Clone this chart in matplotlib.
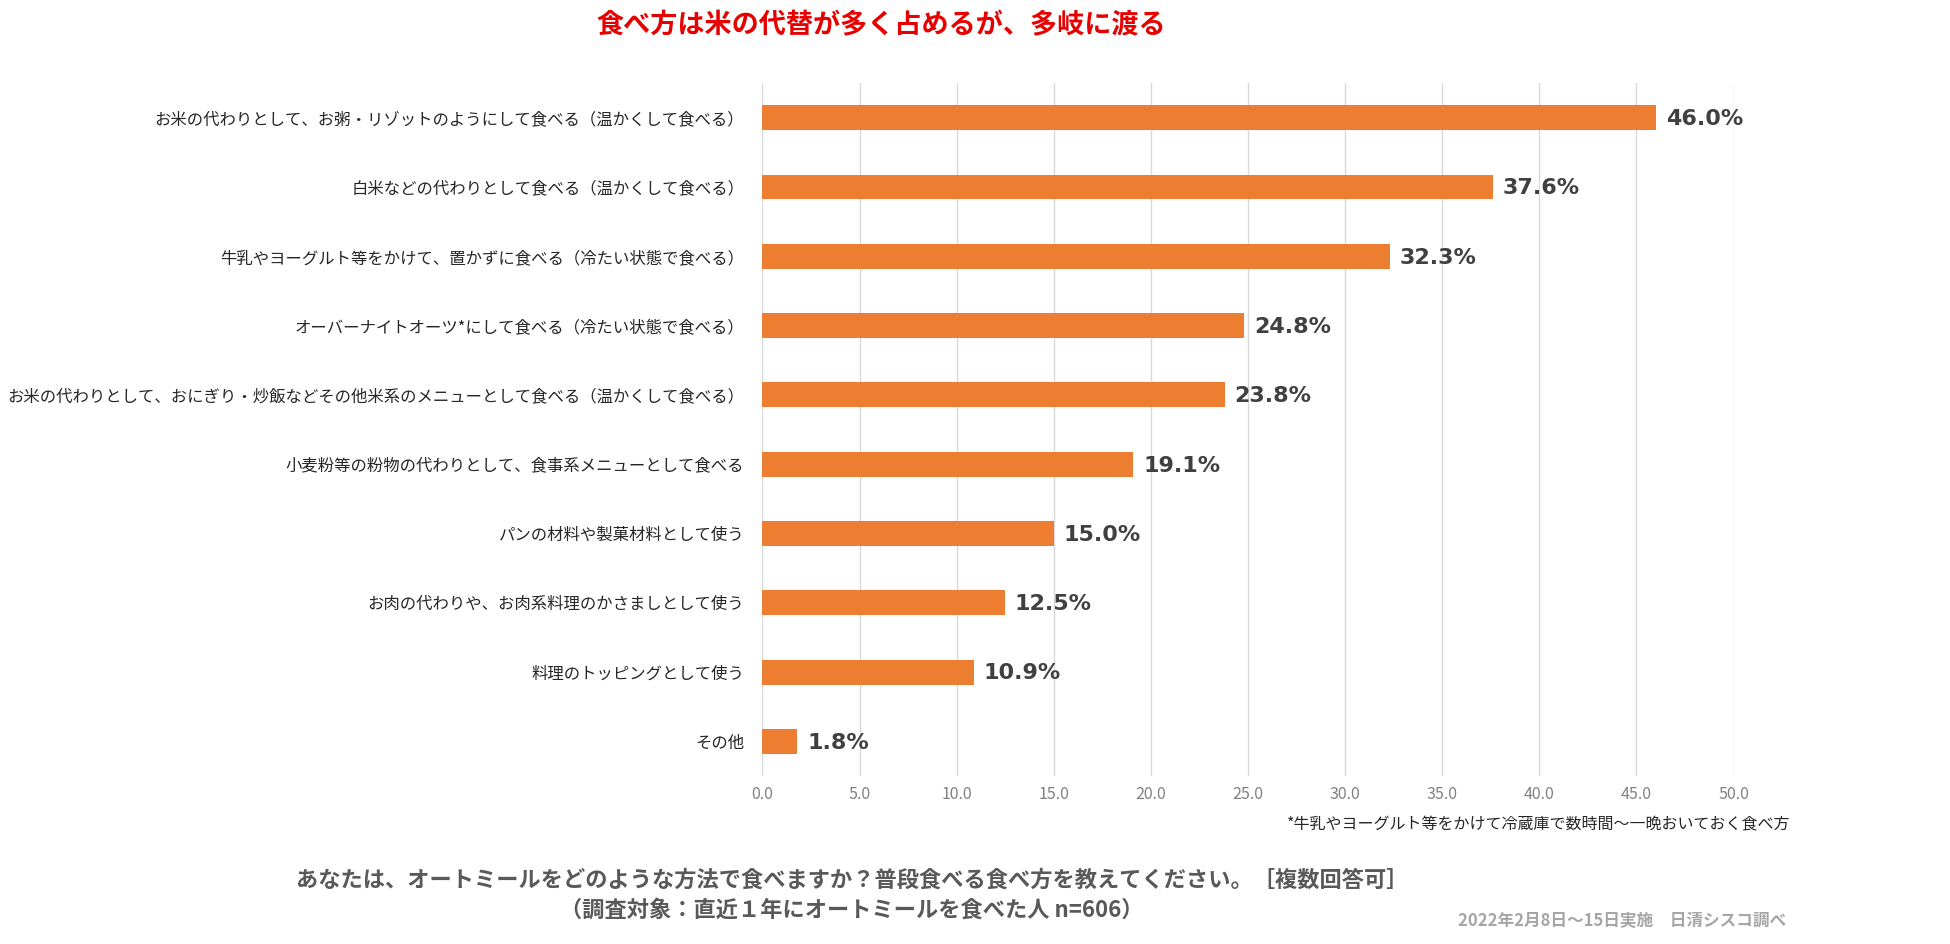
import matplotlib
matplotlib.use("Agg")
import matplotlib.pyplot as plt
import numpy as np

plt.rcParams['font.family'] = ['Noto Sans CJK JP', 'DejaVu Sans']

# データ（上から順）
categories = [
    "お米の代わりとして、お粥・リゾットのようにして食べる（温かくして食べる）",
    "白米などの代わりとして食べる（温かくして食べる）",
    "牛乳やヨーグルト等をかけて、置かずに食べる（冷たい状態で食べる）",
    "オーバーナイトオーツ*にして食べる（冷たい状態で食べる）",
    "お米の代わりとして、おにぎり・炒飯などその他米系のメニューとして食べる（温かくして食べる）",
    "小麦粉等の粉物の代わりとして、食事系メニューとして食べる",
    "パンの材料や製菓材料として使う",
    "お肉の代わりや、お肉系料理のかさましとして使う",
    "料理のトッピングとして使う",
    "その他",
]
values = [46.0, 37.6, 32.3, 24.8, 23.8, 19.1, 15.0, 12.5, 10.9, 1.8]
xticks = [0, 5, 10, 15, 20, 25, 30, 35, 40, 45, 50]

title = "食べ方は米の代替が多く占めるが、多岐に渡る"
footnote = "*牛乳やヨーグルト等をかけて冷蔵庫で数時間～一晩おいておく食べ方"
question1 = "あなたは、オートミールをどのような方法で食べますか？普段食べる食べ方を教えてください。［複数回答可］"
question2 = "（調査対象：直近１年にオートミールを食べた人 n=606）"
source = "2022年2月8日～15日実施　日清シスコ調べ"

fig = plt.figure(figsize=(19.5, 9.44), dpi=100)
ax = fig.add_axes([0.391, 0.178, 0.498, 0.734])

y = np.arange(len(categories))
bars = ax.barh(y, values, height=0.36, color="#ED7D31", zorder=3)

for b, v in zip(bars, values):
    ax.annotate(f"{v:.1f}%", (b.get_width(), b.get_y() + b.get_height() / 2),
                xytext=(7, -1), textcoords="offset points", va="center", ha="left",
                fontsize=16, fontweight="bold", color="#404040", family="DejaVu Sans")

ax.set_ylim(len(categories) - 0.5, -0.5)
ax.set_xlim(0, 50)
ax.set_yticks(y)
ax.set_yticklabels(categories, fontsize=11.8, color="#262626")
ax.set_xticks(xticks)
ax.set_xticklabels([f"{t:.1f}" for t in xticks], fontsize=11.5, color="#808080")
ax.tick_params(axis="y", length=0, pad=13)
ax.tick_params(axis="x", length=0, pad=7)
ax.grid(axis="x", color="#d9d9d9", linewidth=1, zorder=0)
for s in ax.spines.values():
    s.set_visible(False)

fig.text(0.452, 0.973, title, ha="center", va="center", fontsize=19.5,
         fontweight="bold", color="#e60000")
fig.text(0.918, 0.126, footnote, ha="right", va="center", fontsize=11.5, color="#262626")
fig.text(0.437, 0.068, question1, ha="center", va="center", fontsize=16,
         fontweight="bold", color="#595959")
fig.text(0.437, 0.036, question2, ha="center", va="center", fontsize=16,
         fontweight="bold", color="#595959")
fig.text(0.916, 0.024, source, ha="right", va="center", fontsize=12,
         fontweight="bold", color="#a6a6a6")

fig.savefig("out.png", dpi=100)
